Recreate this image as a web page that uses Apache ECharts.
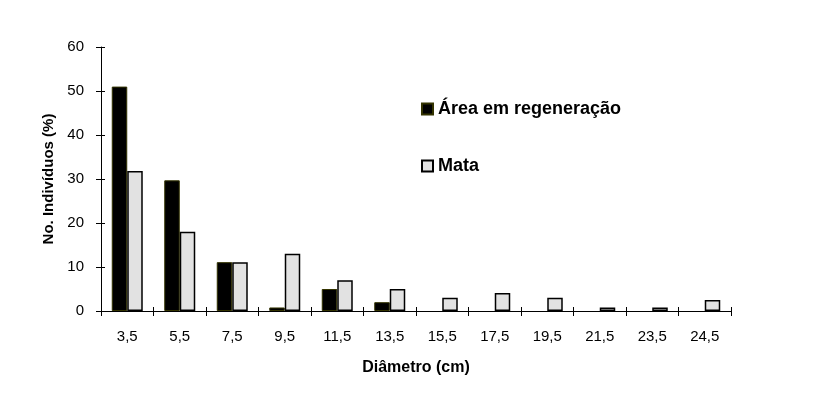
<!DOCTYPE html>
<html>
<head>
<meta charset="utf-8">
<script src="https://cdn.jsdelivr.net/npm/echarts@6/dist/echarts.min.js"></script>
<style>
  html, body { margin: 0; padding: 0; background: #fff; }
  #chart { width: 829px; height: 397px; }
</style>
</head>
<body>
<div id="chart"></div>
<script>
// classes de diâmetro (cm)
const categories = ['3,5', '5,5', '7,5', '9,5', '11,5', '13,5', '15,5', '17,5', '19,5', '21,5', '23,5', '24,5'];
const regeneracao = [51, 29.7, 11.1, 0.8, 5, 2, 0, 0, 0, 0, 0, 0];
const mata = [31.8, 18, 11.1, 13, 7, 5, 3, 4.1, 3, 0.8, 0.8, 2.5];
const yTicks = [0, 10, 20, 30, 40, 50, 60];

const font = 'Liberation Sans, Arial, sans-serif';
const chart = echarts.init(document.getElementById('chart'));

// barras de valor zero não aparecem no original
let semZero = function (arr) {
    return arr.map(function (v) { return v === 0 ? '-' : v; });
};

let option = {
    animation: false,
    backgroundColor: '#fff',
    grid: { left: 101, right: 98, top: 47, bottom: 86 },
    legend: {
        orient: 'vertical',
        left: 416,
        top: 95,
        padding: 5,
        itemGap: 39,
        itemWidth: 11,
        itemHeight: 11,
        icon: 'rect',
        textStyle: { fontFamily: font, fontWeight: 'bold', fontSize: 18, color: '#000' },
        data: ['Área em regeneração', 'Mata']
    },
    xAxis: [
        {
            type: 'category',
            data: categories,
            name: 'Diâmetro (cm)',
            nameLocation: 'middle',
            nameGap: 49,
            nameTextStyle: { fontFamily: font, fontWeight: 'bold', fontSize: 16, color: '#000' },
            axisLine: { lineStyle: { color: '#000', width: 1 } },
            axisTick: { show: true, length: 5, lineStyle: { color: '#000' } },
            axisLabel: { fontFamily: font, fontSize: 15, color: '#000', margin: 18 },
            splitLine: { show: false }
        },
        {
            // ticks que cruzam o eixo
            type: 'category',
            data: categories,
            position: 'bottom',
            axisLine: { show: false },
            axisTick: { show: true, inside: true, length: 4, lineStyle: { color: '#000' } },
            axisLabel: { show: false }
        }
    ],
    yAxis: [
        {
            type: 'value',
            min: 0,
            max: 60,
            interval: 10,
            name: 'No. Indivíduos (%)',
            nameLocation: 'middle',
            nameGap: 42,
            nameTextStyle: { fontFamily: font, fontWeight: 'bold', fontSize: 15, color: '#000' },
            axisLine: { show: true, lineStyle: { color: '#000', width: 1 } },
            axisTick: { show: true, length: 5, lineStyle: { color: '#000' } },
            axisLabel: {
                fontFamily: font, fontSize: 15, color: '#000', margin: 17,
                formatter: function (v) { return yTicks.indexOf(v) >= 0 ? String(v) : ''; }
            },
            splitLine: { show: false }
        },
        {
            type: 'value',
            min: 0,
            max: 60,
            interval: 10,
            position: 'left',
            offset: 0,
            axisLine: { show: false },
            axisTick: { show: true, inside: true, length: 4, lineStyle: { color: '#000' } },
            axisLabel: { show: false },
            splitLine: { show: false }
        }
    ],
    series: [
        {
            name: 'Área em regeneração',
            type: 'bar',
            barWidth: 15.5,
            barGap: '0%',
            itemStyle: { color: '#000', borderColor: '#333300', borderWidth: 1 },
            data: semZero(regeneracao)
        },
        {
            name: 'Mata',
            type: 'bar',
            barWidth: 15.5,
            barGap: '0%',
            itemStyle: { color: '#e2e2e2', borderColor: '#000', borderWidth: 1.5 },
            data: semZero(mata)
        }
    ]
};
chart.setOption(option);
</script>
</body>
</html>
